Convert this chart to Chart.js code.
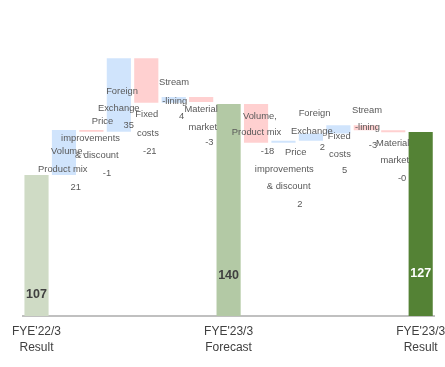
<!DOCTYPE html>
<html>
<head>
<meta charset="utf-8">
<script src="https://cdn.jsdelivr.net/npm/chart.js@4"></script>
<style>
  html, body { margin: 0; padding: 0; background: #ffffff; }
  #wrap { width: 445px; height: 367px; position: relative; }
</style>
</head>
<body>
<div id="wrap"><canvas id="c"></canvas></div>
<script>
// ---- data ----
const categories = [
  "FYE'22/3 Result", "Volume, Product mix", "Price improvements & discount", "Foreign Exchange",
  "Fixed costs", "Streamlining", "Material market", "FYE'23/3 Forecast",
  "Volume, Product mix", "Price improvements & discount", "Foreign Exchange",
  "Fixed costs", "Streamlining", "Material market", "FYE'23/3 Result"
];
const totals = [107, null, null, null, null, null, null, 140, null, null, null, null, null, null, 127];
const stepDeltas = [null, 20.9, -0.8, 34.1, -20.6, 2.6, -2.3, null, -18.0, 0.9, 3.4, 3.8, -2.3, -0.9, null];
const stepValueLabels = ["", "21", "-1", "35", "-21", "4", "-3", "", "-18", "2", "2", "5", "-3", "-0", ""];
const stepNames = [
  [], ["Volume,", "Product mix"], ["Price", "improvements", "& discount"], ["Foreign", "Exchange"],
  ["Fixed", "costs"], ["Stream", "-lining"], ["Material", "market"], [],
  ["Volume,", "Product mix"], ["Price", "improvements", "& discount"], ["Foreign", "Exchange"],
  ["Fixed", "costs"], ["Stream", "-lining"], ["Material", "market"], []
];
const tickLabels = [
  ["FYE'22/3", "Result"], "", "", "", "", "", "", ["FYE'23/3", "Forecast"],
  "", "", "", "", "", "", ["FYE'23/3", "Result"]
];

// ---- styles / layout ----
const totalColors = ['#cfdbc5', '#b3c9a5', '#548235'];
const upColor = '#d0e4fc';
const downColor = '#ffd0d0';
const axisMin = 41.5, axisMax = 175;
// per-line offsets [dx, dy] from bar centre / bar top
const stepLabelOffsets = [
  null,
  [[4.1, 21.7], [-1.2, 39.3], [11.8, 57]],
  [[11.1, -8.3], [-0.9, 8], [5.4, 25.7], [15.6, 43.7]],
  [[3.2, 33.4], [-0.1, 49.7], [9.9, 67.4]],
  [[0.5, 56.4], [1.6, 75.4], [3.5, 93]],
  [[0.3, -14.3], [1, 4], [8, 19.7]],
  [[-0.1, 12], [1.6, 30], [8.2, 45.7]],
  null,
  [[3.8, 12.7], [0.5, 28.7], [11.5, 47]],
  [[12.2, 12], [0.8, 28.3], [5.2, 46], [16.5, 63.6]],
  [[3.6, -19.7], [0.9, -1.7], [11.4, 13.9]],
  [[0.9, 11.5], [1.6, 29.5], [6.3, 45.5]],
  [[1.2, -15.2], [1.7, 2.5], [7.2, 20.5]],
  [[-0.5, 13.5], [1.5, 29.8], [8.9, 48.1]],
  null
];
const totalLabelOffsets = { 0: -21.7, 7: -40, 14: -42.7 };
const totalLabelColors = { 0: '#404040', 7: '#404040', 14: '#ffffff' };

// ---- build bar data from the arrays ----
const barData = [];
const barColors = [];
let running = 0, totalIdx = 0;
for (let i = 0; i < categories.length; i++) {
  if (totals[i] !== null) {
    running = totals[i];
    barData.push(totals[i]);
    barColors.push(totalColors[totalIdx++]);
  } else {
    const start = running;
    running = running + stepDeltas[i];
    barData.push([start, running]);
    barColors.push(stepDeltas[i] >= 0 ? upColor : downColor);
  }
}

const labelPlugin = {
  id: 'wfLabels',
  afterDatasetsDraw(chart) {
    const ctx = chart.ctx;
    const meta = chart.getDatasetMeta(0);
    const yScale = chart.scales.y;
    ctx.save();
    ctx.textAlign = 'center';
    ctx.textBaseline = 'middle';
    meta.data.forEach((bar, i) => {
      if (totals[i] !== null) {
        ctx.font = 'bold 12.5px "Liberation Sans", Arial, sans-serif';
        ctx.fillStyle = totalLabelColors[i];
        ctx.fillText(String(totals[i]), bar.x, yScale.bottom + totalLabelOffsets[i]);
      } else {
        const top = Math.min(bar.y, bar.base);
        const lines = stepNames[i].concat([stepValueLabels[i]]);
        const offs = stepLabelOffsets[i];
        ctx.font = '9.4px "Liberation Sans", Arial, sans-serif';
        ctx.fillStyle = '#595959';
        lines.forEach((t, k) => {
          ctx.fillText(t, bar.x + offs[k][0], top + offs[k][1]);
        });
      }
    });
    ctx.restore();
  }
};

new Chart(document.getElementById('c'), {
  type: 'bar',
  data: {
    labels: categories,
    datasets: [{
      data: barData,
      backgroundColor: barColors,
      borderWidth: 0,
      barPercentage: 0.88,
      categoryPercentage: 1.0
    }]
  },
  options: {
    responsive: true,
    maintainAspectRatio: false,
    animation: false,
    layout: { padding: { left: 22.8, right: 10.6, top: 28.6, bottom: 0 } },
    plugins: { legend: { display: false }, tooltip: { enabled: false } },
    scales: {
      x: {
        grid: { display: false, drawTicks: false },
        border: { display: true, color: '#c0c0c0', width: 2 },
        ticks: {
          autoSkip: false,
          maxRotation: 0,
          minRotation: 0,
          padding: 8,
          color: '#404040',
          font: { family: '"Liberation Sans", Arial, sans-serif', size: 12, lineHeight: 1.3 },
          callback: (v, i) => tickLabels[i]
        },
        afterFit: (scale) => {
          scale.height = 51;
          scale.paddingLeft = 0;
          scale.paddingRight = 0;
        }
      },
      y: {
        display: false,
        min: axisMin,
        max: axisMax
      }
    }
  },
  plugins: [labelPlugin]
});
</script>
</body>
</html>
